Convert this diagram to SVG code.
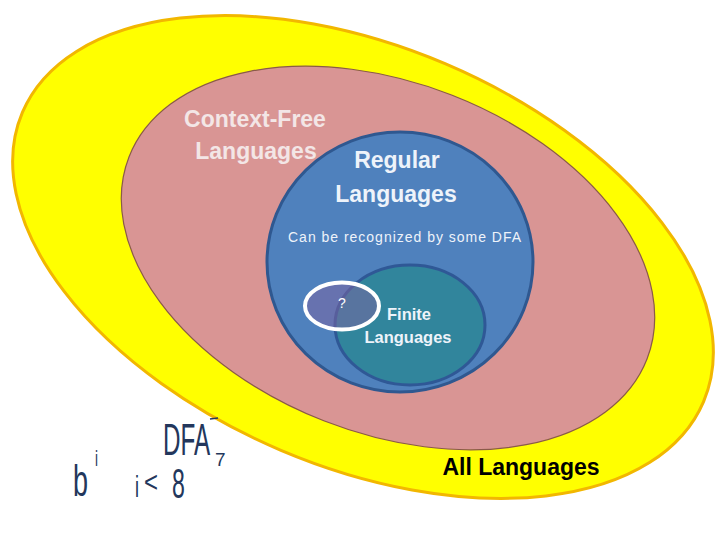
<svg xmlns="http://www.w3.org/2000/svg" width="720" height="540" viewBox="0 0 720 540">
  <style>
    .lbl { font-family: "Liberation Sans", Arial, sans-serif; font-weight: bold; text-anchor: middle; }
    .light { fill: #F3E6E6; }
    .white { fill: #EEF3FA; }
    .hand { font-family: "Liberation Sans", Arial, sans-serif; fill: #23375C; }
  </style>
  <rect width="720" height="540" fill="#FFFFFF"/>
  <g id="all-languages">
    <ellipse cx="363" cy="257" rx="370" ry="210" transform="rotate(23 363 257)" fill="#FFFF00" stroke="#F2B700" stroke-width="3"/>
    <text class="lbl" x="521" y="475" font-size="23" fill="#000000">All Languages</text>
  </g>
  <g id="context-free">
    <ellipse cx="388" cy="258" rx="278" ry="175" transform="rotate(21.3 388 258)" fill="#D99594" stroke="#8A5A48" stroke-width="1.2"/>
    <text class="lbl light" x="255" y="127" font-size="23">Context-Free</text>
    <text class="lbl light" x="256" y="159" font-size="23">Languages</text>
  </g>
  <g id="regular">
    <ellipse cx="400" cy="262" rx="133" ry="130" fill="#4F81BD" stroke="#2F5890" stroke-width="3"/>
    <text class="lbl white" x="397" y="168" font-size="23">Regular</text>
    <text class="lbl white" x="396" y="202" font-size="23">Languages</text>
    <text x="288" y="242" font-family="'Liberation Sans', Arial, sans-serif" font-size="14" fill="#EEF3FA" textLength="233" lengthAdjust="spacing">Can be recognized by some DFA</text>
  </g>
  <g id="finite">
    <ellipse cx="410" cy="325" rx="75" ry="60" fill="#31859C" stroke="#2F5896" stroke-width="3"/>
    <text class="lbl white" x="409" y="320" font-size="16.5">Finite</text>
    <text class="lbl white" x="408" y="343" font-size="16.5">Languages</text>
  </g>
  <g id="unknown">
    <ellipse cx="342" cy="306" rx="37" ry="23.5" fill="#8064A2" fill-opacity="0.5" stroke="#FFFFFF" stroke-width="4"/>
    <text x="342" y="308" font-family="'Liberation Sans', Arial, sans-serif" font-size="14" fill="#FFFFFF" text-anchor="middle">?</text>
  </g>
  <g id="notes">
    <text class="hand" transform="translate(163 455) scale(0.55 1)" font-size="44">DFA</text>
    <line x1="210" y1="419" x2="218" y2="418" stroke="#23375C" stroke-width="1.5"/>
    <text class="hand" x="215" y="466" font-size="19">7</text>
    <text class="hand" transform="translate(73 496) scale(0.6 1)" font-size="45">b</text>
    <text class="hand" transform="translate(95 466) scale(0.6 1)" font-size="22">i</text>
    <text class="hand" transform="translate(135 497) scale(0.6 1)" font-size="30">i</text>
    <text class="hand" transform="translate(144 492) scale(0.8 1)" font-size="30">&lt;</text>
    <text class="hand" transform="translate(172 498) scale(0.55 1)" font-size="42">8</text>
  </g>
</svg>
